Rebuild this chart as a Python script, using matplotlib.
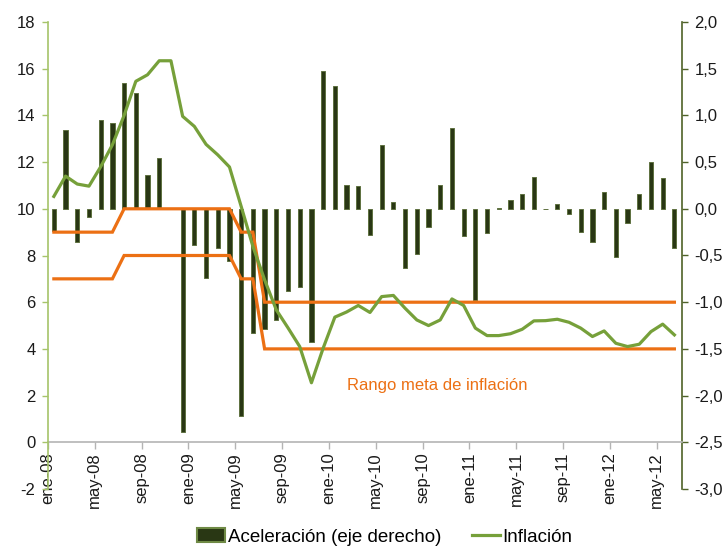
import matplotlib
matplotlib.use("Agg")
import matplotlib.pyplot as plt
from matplotlib.patches import Patch
from matplotlib.lines import Line2D
from matplotlib.ticker import FuncFormatter

# ---- data ----
meses = ['ene', 'feb', 'mar', 'abr', 'may', 'jun', 'jul', 'ago', 'sep', 'oct', 'nov', 'dic']
years = ['08', '09', '10', '11', '12']
months = [f"{m}-{y}" for y in years for m in meses][:54]   # ene-08 .. jun-12

aceleracion = [-0.24, 0.84, -0.36, -0.09, 0.95, 0.92, 1.35, 1.24, 0.36, 0.54,
               0.0, -2.39, -0.39, -0.74, -0.42, -0.56, -2.22, -1.33, -1.29, -1.19,
               -0.88, -0.84, -1.43, 1.48, 1.31, 0.26, 0.24, -0.28, 0.68, 0.07,
               -0.63, -0.48, -0.19, 0.25, 0.86, -0.29, -0.98, -0.26, 0.01, 0.09,
               0.16, 0.34, -0.005, 0.05, -0.06, -0.25, -0.36, 0.18, -0.52, -0.15,
               0.16, 0.50, 0.33, -0.42]

inflacion = [10.53, 11.40, 11.06, 10.97, 11.80, 12.74, 14.00, 15.46, 15.74, 16.34,
             16.34, 13.96, 13.53, 12.76, 12.31, 11.79, 10.10, 8.39, 6.96, 5.67,
             4.90, 4.10, 2.55, 4.03, 5.36, 5.58, 5.86, 5.56, 6.24, 6.29,
             5.74, 5.24, 5.00, 5.24, 6.14, 5.86, 4.89, 4.57, 4.57, 4.65,
             4.84, 5.20, 5.21, 5.27, 5.14, 4.89, 4.53, 4.77, 4.24, 4.10,
             4.20, 4.74, 5.06, 4.60]

meta_sup = [9]*6 + [10]*10 + [9]*2 + [6]*36
meta_inf = [7]*6 + [8]*10 + [7]*2 + [4]*36

left_ticks = list(range(-2, 19, 2))
right_ticks = [-3.0, -2.5, -2.0, -1.5, -1.0, -0.5, 0.0, 0.5, 1.0, 1.5, 2.0]

# ---- style ----
BAR = '#293714'
BAR_EDGE = '#5f7140'
GREEN = '#76a03a'
ORANGE = '#ec7014'
LEFT_SPINE = '#a6c46a'
RIGHT_SPINE = '#4f6228'
GRAY = '#b4b4b4'
TXT = '#1a1a1a'
plt.rcParams['font.family'] = ['Liberation Sans', 'DejaVu Sans']
plt.rcParams['axes.unicode_minus'] = False

fig = plt.figure(figsize=(7.25, 5.46), dpi=100)
ax_b = fig.add_axes([48/725, 1-489/546, (682-48)/725, (489-22)/546])
ax_l = ax_b.twinx()
ax_l.patch.set_visible(False)

x = list(range(len(months)))

# bars on right scale
ax_b.bar(x, aceleracion, width=0.36, color=BAR, edgecolor=BAR_EDGE, linewidth=0.7, zorder=2)
ax_b.set_ylim(-3.0, 2.0)
ax_b.set_xlim(-0.5, 53.65)
ax_b.yaxis.tick_right()
ax_b.set_yticks(right_ticks)
ax_b.yaxis.set_major_formatter(FuncFormatter(lambda v, p: f"{v:.1f}".replace('.', ',')))
ax_b.tick_params(axis='y', colors=RIGHT_SPINE, labelcolor=TXT, labelsize=12, length=4, width=1, pad=5)
for s in ['top', 'left']:
    ax_b.spines[s].set_visible(False)
ax_b.spines['right'].set_color(RIGHT_SPINE)
ax_b.spines['right'].set_linewidth(1.2)
ax_b.spines['bottom'].set_position(('data', -2.5))
ax_b.spines['bottom'].set_color(GRAY)
ax_b.spines['bottom'].set_linewidth(1.2)

tick_idx = list(range(0, len(months), 4))
ax_b.set_xticks([i - 0.5 for i in tick_idx])
ax_b.set_xticklabels([months[i] for i in tick_idx], rotation=90)
ax_b.tick_params(axis='x', colors=GRAY, labelcolor=TXT, labelsize=12, length=5, width=1, pad=2)

# lines on left scale
ax_l.plot(x, meta_sup, color=ORANGE, lw=2.3, zorder=3, solid_joinstyle='miter')
ax_l.plot(x, meta_inf, color=ORANGE, lw=2.3, zorder=3, solid_joinstyle='miter')
ax_l.plot(x, inflacion, color=GREEN, lw=2.3, zorder=4)
ax_l.set_ylim(-2, 18)
ax_l.yaxis.tick_left()
ax_l.yaxis.set_label_position('left')
ax_l.set_yticks(left_ticks)
ax_l.tick_params(axis='y', colors=LEFT_SPINE, labelcolor=TXT, labelsize=12, length=4, width=1, pad=5)
for s in ['top', 'right', 'bottom']:
    ax_l.spines[s].set_visible(False)
ax_l.spines['left'].set_color(LEFT_SPINE)
ax_l.spines['left'].set_linewidth(1.2)

ax_l.text(25.0, 2.45, 'Rango meta de inflación', color=ORANGE, fontsize=12,
          ha='left', va='center')

handles = [Patch(facecolor=BAR, edgecolor='#6f8a45', linewidth=1.5),
           Line2D([0], [0], color=GREEN, lw=2.3)]
fig.legend(handles, ['Aceleración (eje derecho)', 'Inflación'], loc='center',
           bbox_to_anchor=(385/725, 1-537/546), ncol=2, frameon=False,
           prop={'size': 13.5}, handlelength=1.5,
           handletextpad=0.15, columnspacing=1.6, borderaxespad=0)

fig.savefig('out.png', dpi=100)
